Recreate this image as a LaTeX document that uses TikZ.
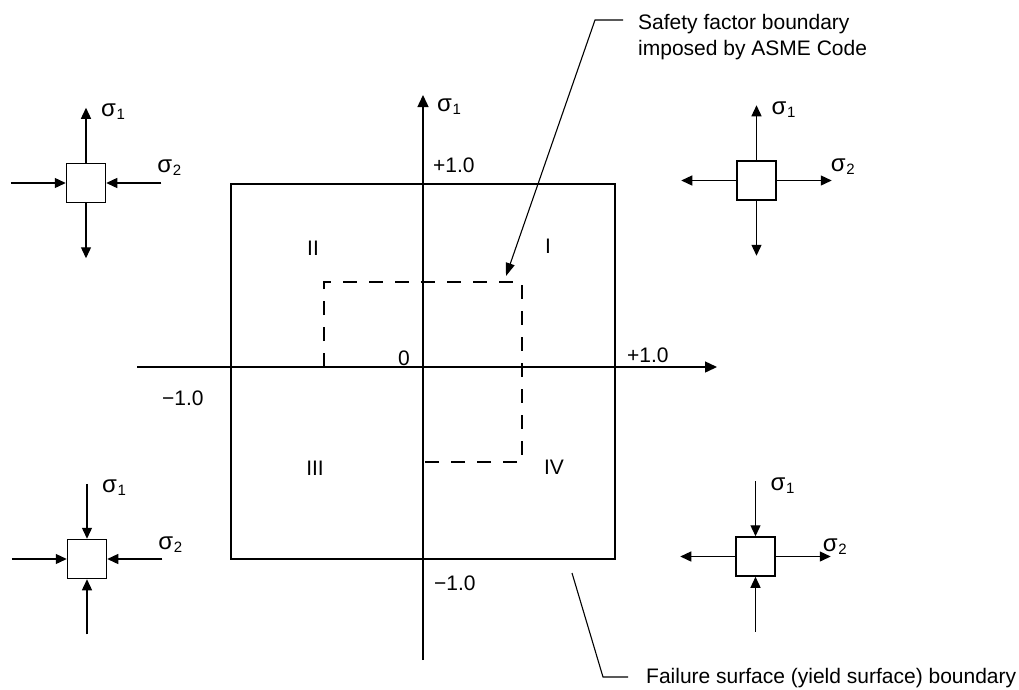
\documentclass[tikz,border=0pt]{standalone}
\usepackage{fontspec}
\setmainfont{Liberation Sans}
\usetikzlibrary{arrows.meta,positioning}

\newcommand{\sgm}[1]{{\fontsize{24}{24}\selectfont σ}\kern0.5pt\raisebox{-3pt}{\fontsize{15}{15}\selectfont #1}}

\begin{document}
\begin{tikzpicture}[
  x=1pt, y=-1pt,
  elem/.style={draw, line width=1.5pt, minimum size=39pt, inner sep=0pt},
  force/.style={-{Triangle[length=11pt,width=10pt]}, line width=1.3pt},
  axis/.style={-{Triangle[length=12pt,width=11pt]}, line width=1.4pt},
  yieldline/.style={line width=1.9pt},
  sfline/.style={line width=1.7pt, dash pattern=on 14pt off 12pt},
  lead/.style={line width=1.1pt},
  lbl/.style={font=\fontsize{21}{26}\selectfont, inner sep=0pt},
]
\useasboundingbox (0,0) rectangle (1019,689);

% stress elements
\node[elem] (tl) at (86,183) {};
\coordinate[above=55pt of tl.north] (tln);
\coordinate[below=55pt of tl.south] (tls);
\coordinate[left=55pt of tl.west] (tlw);
\coordinate[right=55pt of tl.east] (tle);
\draw[force] (tl.north) -- (tln);
\draw[force] (tl.south) -- (tls);
\draw[force] (tlw) -- (tl.west);
\draw[force] (tle) -- (tl.east);
\node[lbl, right=15pt of tln, yshift=-4pt] (tl1) {\sgm{1}};
\node[lbl, anchor=west] (tl2) at ([xshift=-4pt,yshift=15pt]tle) {\sgm{2}};

\node[elem] (tr) at (756.5,180.5) {};
\coordinate[above=55pt of tr.north] (trn);
\coordinate[below=55pt of tr.south] (trs);
\coordinate[left=55pt of tr.west] (trw);
\coordinate[right=55pt of tr.east] (tre);
\draw[force] (tr.north) -- (trn);
\draw[force] (tr.south) -- (trs);
\draw[force] (tr.west) -- (trw);
\draw[force] (tr.east) -- (tre);
\node[lbl, right=15pt of trn, yshift=-4pt] (tr1) {\sgm{1}};
\node[lbl, anchor=west] (tr2) at ([xshift=-1pt,yshift=14pt]tre) {\sgm{2}};

\node[elem] (bl) at (87,559) {};
\coordinate[above=55pt of bl.north] (bln);
\coordinate[below=55pt of bl.south] (bls);
\coordinate[left=55pt of bl.west] (blw);
\coordinate[right=55pt of bl.east] (ble);
\draw[force] (bln) -- (bl.north);
\draw[force] (bls) -- (bl.south);
\draw[force] (blw) -- (bl.west);
\draw[force] (ble) -- (bl.east);
\node[lbl, right=15pt of bln, yshift=-4pt] (bl1) {\sgm{1}};
\node[lbl, anchor=west] (bl2) at ([xshift=-4pt,yshift=14pt]ble) {\sgm{2}};

\node[elem] (br) at (755.5,556.5) {};
\coordinate[above=55pt of br.north] (brn);
\coordinate[below=55pt of br.south] (brs);
\coordinate[left=55pt of br.west] (brw);
\coordinate[right=55pt of br.east] (bre);
\draw[force] (brn) -- (br.north);
\draw[force] (brs) -- (br.south);
\draw[force] (br.west) -- (brw);
\draw[force] (br.east) -- (bre);
\node[lbl, right=15pt of brn, yshift=-4pt] (br1) {\sgm{1}};
\node[lbl, anchor=west] (br2) at ([xshift=-8pt,yshift=10pt]bre) {\sgm{2}};

% axes and boundaries
\coordinate (xstart) at (137,367);
\coordinate (xend) at (717,367);
\coordinate (ystart) at (423,660);
\coordinate (yend) at (423,95);
\draw[axis] (xstart) -- (xend);
\draw[axis] (ystart) -- (yend);
\draw[yieldline] (231,184) rectangle (615,559);
\draw[sfline] (324,367) -- (324,282) -- (522,282) -- (522,462) -- (423,462);

\node[lbl, anchor=west] (ysig) at (437,107) {\sgm{1}};
\node[lbl, anchor=west] (ytop) at (433,165) {+1.0};
\node[lbl, anchor=west] (xright) at (627,355) {+1.0};
\node[lbl, anchor=west] (xleft) at (162,398) {−1.0};
\node[lbl, anchor=west] (ybot) at (434,583) {−1.0};
\node[lbl] (orig) at (404,358) {0};
\node[lbl] (q1) at (548,246) {I};
\node[lbl] (q2) at (313,248) {II};
\node[lbl] (q3) at (315,468) {III};
\node[lbl] (q4) at (554,467) {IV};

% callouts
\node[lbl, anchor=north west, align=left] (sftxt) at (638,14) {Safety factor boundary\\imposed by ASME Code};
\coordinate (sfend) at (623,20);
\coordinate (sfknee) at (595,20);
\coordinate (sftip) at (506,276);
\draw[lead, -{Triangle[length=13pt,width=9pt]}] (sfend) -- (sfknee) -- (sftip);

\node[lbl, anchor=base west] (fstxt) at (646,683) {Failure surface (yield surface) boundary};
\coordinate (fsfoot) at (572,573);
\coordinate (fsknee) at (603,677);
\coordinate (fsend) at (628,677);
\draw[lead] (fsfoot) -- (fsknee) -- (fsend);
\end{tikzpicture}
\end{document}
